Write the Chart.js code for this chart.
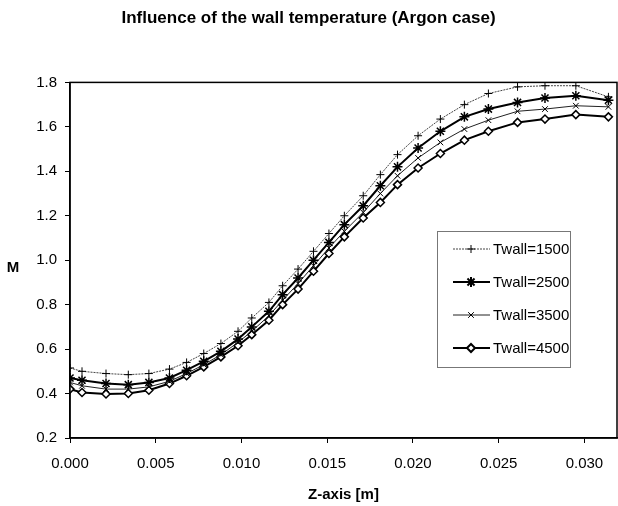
<!DOCTYPE html>
<html>
<head>
<meta charset="utf-8">
<script src="https://cdn.jsdelivr.net/npm/chart.js@4.4.0/dist/chart.umd.min.js"></script>
<style>
  html, body { margin: 0; padding: 0; background: #fff; }
</style>
</head>
<body>
<canvas id="chart" width="618" height="506"></canvas>
<script>
// axial positions (m)
const zPos = [0.0000, 0.0007, 0.0021, 0.0034, 0.0046, 0.0058, 0.0068, 0.0078, 0.0088, 0.0098,
  0.0106, 0.0116, 0.0124, 0.0133, 0.0142, 0.0151, 0.0160, 0.0171, 0.0181, 0.0191,
  0.0203, 0.0216, 0.0230, 0.0244, 0.0261, 0.0277, 0.0295, 0.0314];

// Mach number for each wall temperature
const tw1500 = [0.515, 0.50, 0.49, 0.485, 0.49, 0.51, 0.54, 0.58, 0.625, 0.68,
  0.74, 0.81, 0.885, 0.96, 1.04, 1.12, 1.20, 1.29, 1.385, 1.475,
  1.56, 1.635, 1.70, 1.75, 1.78, 1.785, 1.785, 1.735];
const tw2500 = [0.47, 0.46, 0.445, 0.44, 0.45, 0.47, 0.505, 0.545, 0.59, 0.645,
  0.70, 0.77, 0.845, 0.92, 1.00, 1.08, 1.16, 1.245, 1.335, 1.42,
  1.505, 1.58, 1.645, 1.68, 1.71, 1.73, 1.74, 1.72];
const tw3500 = [0.45, 0.435, 0.42, 0.42, 0.43, 0.455, 0.49, 0.53, 0.575, 0.63,
  0.68, 0.75, 0.82, 0.895, 0.975, 1.055, 1.13, 1.215, 1.30, 1.38,
  1.46, 1.53, 1.59, 1.63, 1.67, 1.68, 1.695, 1.69];
const tw4500 = [0.42, 0.405, 0.398, 0.40, 0.415, 0.445, 0.48, 0.52, 0.565, 0.615,
  0.665, 0.73, 0.80, 0.87, 0.95, 1.03, 1.105, 1.19, 1.26, 1.34,
  1.415, 1.48, 1.54, 1.58, 1.62, 1.635, 1.655, 1.645];

const seriesNames = ['Twall=1500', 'Twall=2500', 'Twall=3500', 'Twall=4500'];
const xTicks = [0.000, 0.005, 0.010, 0.015, 0.020, 0.025, 0.030];
const yTicks = [0.2, 0.4, 0.6, 0.8, 1.0, 1.2, 1.4, 1.6, 1.8];

const FONT = 'Arial, "Liberation Sans", sans-serif';

function pts(vals) {
  return zPos.map((z, i) => ({ x: z, y: vals[i] }));
}

const styles = [
  { color: '#444', width: 1, dash: [2, 1], point: 'cross', radius: 4, pw: 1 },
  { color: '#000', width: 2, dash: [], point: 'star', radius: 5, pw: 1.5 },
  { color: '#222', width: 1, dash: [], point: 'crossRot', radius: 4, pw: 1 },
  { color: '#000', width: 2, dash: [], point: 'rectRot', radius: 4, pw: 1.5 }
];

const allSeries = [tw1500, tw2500, tw3500, tw4500];

const datasets = allSeries.map((vals, i) => ({
  label: seriesNames[i],
  data: pts(vals),
  borderColor: styles[i].color,
  borderWidth: styles[i].width,
  borderDash: styles[i].dash,
  pointStyle: styles[i].point,
  pointRadius: styles[i].radius,
  pointBorderColor: '#000',
  pointBackgroundColor: '#fff',
  pointBorderWidth: styles[i].pw,
  tension: 0
}));

// frame around plot, upright "M", boxed legend inside the plot
const extras = {
  id: 'extras',
  afterDraw(chart) {
    const { ctx, chartArea: a } = chart;
    ctx.save();
    ctx.strokeStyle = '#000';
    ctx.lineWidth = 1.5;
    ctx.strokeRect(a.left, a.top, a.right - a.left, a.bottom - a.top);

    ctx.fillStyle = '#000';
    ctx.font = 'bold 15px ' + FONT;
    ctx.textAlign = 'center';
    ctx.textBaseline = 'middle';
    ctx.fillText('M', 13, 268);

    // legend
    const lx = 437, ly = 231, lw = 133, lh = 136;
    ctx.fillStyle = '#fff';
    ctx.fillRect(lx, ly, lw, lh);
    ctx.strokeStyle = '#777';
    ctx.lineWidth = 1;
    ctx.strokeRect(lx + 0.5, ly + 0.5, lw, lh);
    ctx.font = '15px ' + FONT;
    ctx.textAlign = 'left';
    seriesNames.forEach((name, i) => {
      const y = 249 + i * 33;
      const s = styles[i];
      ctx.strokeStyle = s.color;
      ctx.lineWidth = s.width;
      ctx.setLineDash(s.dash);
      ctx.beginPath();
      ctx.moveTo(453, y);
      ctx.lineTo(490, y);
      ctx.stroke();
      ctx.setLineDash([]);
      ctx.strokeStyle = '#000';
      ctx.fillStyle = '#fff';
      Chart.helpers.drawPoint(ctx, {
        pointStyle: s.point, radius: s.radius, borderWidth: s.pw,
        rotation: 0
      }, 471, y);
      ctx.fillStyle = '#000';
      ctx.fillText(name, 493, y + 1);
    });
    ctx.restore();
  }
};

new Chart(document.getElementById('chart'), {
  type: 'line',
  data: { datasets },
  plugins: [extras],
  options: {
    responsive: false,
    animation: false,
    layout: { autoPadding: false, padding: { top: 0, right: 1, bottom: 0, left: 0 } },
    plugins: {
      legend: { display: false },
      tooltip: { enabled: false },
      title: {
        display: true,
        text: 'Influence of the wall temperature (Argon case)',
        color: '#000',
        font: { family: FONT, size: 17, weight: 'bold' },
        padding: { top: 8, bottom: 54 }
      }
    },
    scales: {
      x: {
        type: 'linear',
        min: 0,
        max: 0.0319,
        afterFit: s => { s.height = 68; s.paddingRight = 0; s.paddingLeft = 0; },
        afterBuildTicks: s => { s.ticks = xTicks.map(v => ({ value: v })); },
        grid: { display: true, drawOnChartArea: false, color: '#000', tickLength: 5 },
        border: { color: '#000', width: 1.5 },
        ticks: {
          color: '#000',
          padding: 12,
          maxRotation: 0,
          font: { family: FONT, size: 15 },
          callback: v => v.toFixed(3)
        },
        title: {
          display: true,
          text: 'Z-axis [m]',
          color: '#000',
          font: { family: FONT, size: 15, weight: 'bold' },
          padding: { top: 0, bottom: 2 }
        }
      },
      y: {
        min: 0.2,
        max: 1.8,
        afterFit: s => { s.width = 70; },
        afterBuildTicks: s => { s.ticks = yTicks.map(v => ({ value: v })); },
        grid: { display: true, drawOnChartArea: false, color: '#000', tickLength: 5 },
        border: { color: '#000', width: 1.5 },
        ticks: {
          color: '#000',
          padding: 8,
          font: { family: FONT, size: 15 },
          callback: v => v.toFixed(1)
        }
      }
    }
  }
});
</script>
</body>
</html>
